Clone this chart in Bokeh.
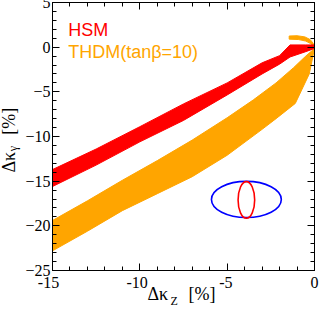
import math
from bokeh.plotting import figure
from bokeh.layouts import column, row
from bokeh.models import Range1d, LinearAxis, SingleIntervalTicker, CustomJSTickFormatter
from bokeh.core.properties import value
from bokeh.embed import file_html
from bokeh.resources import INLINE

# ---- data ----
# HSM band (red): upper / lower boundary of the scatter cloud
hsm_x = [-15, -12.5, -10, -7.5, -5, -3, -2, -1.4, -0.5, 0]
hsm_upper = [-13.7, -11.4, -8.9, -6.35, -4.0, -1.75, -0.95, 0.25, 0.25, 0.25]
hsm_lower = [-15.6, -13.2, -10.6, -8.2, -5.35, -3.0, -1.9, -1.1, -0.5, -0.15]

# THDM(tanb=10) band (orange)
thdm_x_up = [-15, -13, -11, -9, -7, -5, -3.5, -2.2, -1.2, -0.5, 0]
thdm_up = [-19.4, -17.2, -14.9, -12.7, -10.4, -7.9, -5.9, -4.0, -2.3, -1.0, -0.15]
thdm_x_lo = [-15, -13, -11, -9, -7, -5, -3, -2.2, -1.1, -0.3, 0]
thdm_lo = [-22.8, -20.6, -18.3, -16.4, -14.5, -12.1, -9.2, -8.0, -6.3, -3.0, -0.15]

# THDM crescent above zero near the origin
cres_x_out = [-1.45, -1.0, -0.55, -0.25, -0.08, 0]
cres_y_out = [1.25, 1.28, 1.15, 0.85, 0.45, 0]
cres_x_in = [0, -0.22, -0.5, -0.9, -1.45]
cres_y_in = [0, 0.4, 0.68, 0.85, 0.9]

# ellipses (precision indicator)
ell_x = [-3.9, -3.9]
ell_y = [-17.05, -17.1]
ell_w = [4.0, 0.95]
ell_h = [4.05, 4.1]
ell_colors = ["#0000ff", "#ff0000"]

# axes
x_lim = (-15, 0)
y_lim = (-25, 5)
x_ticks = [-15, -10, -5, 0]
x_tick_labels = ["-15", "-10", "-5", "0"]

# legend
legend_texts = ["HSM", "THDM(tanβ=10)"]
legend_colors = ["#ff0000", "#ffa500"]
legend_y = [1.9, -0.5]

SERIF = "Liberation Serif"
SANS = "Liberation Sans"

# ---- layout (picture pixels; root is pulled over the 8px page margin) ----
W, H = 327, 320
WY = 30                              # width of the y-title strip
FL, FR, FT, FB = 56, 322, 10, 278    # frame edges
WM = W - WY                          # main figure width
HM = FB + 12                         # main figure height (room for the "-25" label)
XS = FB + 2                          # top of the x-title strip (overlaps main bottom)
HX = H - XS                          # x-title strip height

p = figure(width=WM, height=HM, x_range=Range1d(*x_lim), y_range=Range1d(*y_lim),
           output_backend="svg", toolbar_location=None,
           x_axis_location=None, y_axis_location=None,
           min_border_left=FL - WY, min_border_right=W - FR,
           min_border_top=FT, min_border_bottom=HM - FB)
p.grid.visible = False
p.background_fill_color = "white"
p.border_fill_color = "white"
p.outline_line_color = "black"


def style_axis(ax, labels):
    ax.ticker = SingleIntervalTicker(interval=5, num_minor_ticks=5)
    ax.major_tick_in = 7
    ax.major_tick_out = 0
    ax.minor_tick_in = 4
    ax.minor_tick_out = 0
    ax.axis_line_color = "black"
    ax.major_tick_line_color = "black"
    ax.minor_tick_line_color = "black"
    if labels:
        ax.major_label_text_font = SERIF
        ax.major_label_text_font_size = "16px"
        ax.major_label_text_color = "black"
        ax.major_label_standoff = 2
    else:
        ax.formatter = CustomJSTickFormatter(code="return ''")
        ax.major_label_standoff = 0


for loc, lab in (("below", False), ("left", True), ("above", False), ("right", False)):
    ax = LinearAxis()
    style_axis(ax, lab)
    p.add_layout(ax, loc)

# bands
p.patch(x=thdm_x_up + thdm_x_lo[::-1], y=thdm_up + thdm_lo[::-1],
        fill_color="#ffa500", line_color="#ffa500", line_width=1)
p.patch(x=cres_x_out + cres_x_in, y=cres_y_out + cres_y_in,
        fill_color="#ffa500", line_color="#ffa500", line_width=1)
p.patch(x=hsm_x + hsm_x[::-1], y=hsm_upper + hsm_lower[::-1],
        fill_color="#ff0000", line_color="#ff0000", line_width=1)

p.ellipse(x=ell_x, y=ell_y, width=ell_w, height=ell_h, fill_alpha=0,
          line_color=ell_colors, line_width=1.6)

# legend texts (inside the frame)
p.text(x=[-14.1, -14.1], y=legend_y, text=legend_texts, text_color=legend_colors,
       text_font=value(SANS), text_font_size="18px", text_baseline="alphabetic")

# ---- x title strip: tick labels + title (transparent, overlapping main bottom) ----
ppx = (x_lim[1] - x_lim[0]) / (FR - FL)   # data units per pixel
xl = figure(width=W, height=HX, output_backend="svg", toolbar_location=None,
            x_range=Range1d(x_lim[0] - FL * ppx, x_lim[1] + (W - FR) * ppx),
            y_range=Range1d(H, XS),
            x_axis_location=None, y_axis_location=None, min_border=0,
            margin=(XS - HM, 0, 0, 0))
xl.grid.visible = False
xl.outline_line_color = None
xl.background_fill_color = None
xl.border_fill_color = None
xl.text(x=x_ticks, y=[FB + 12] * len(x_ticks), text=x_tick_labels, text_align="center",
        text_baseline="alphabetic", text_font=value(SERIF), text_font_size="16px",
        text_color="black")


def dx(px):
    return x_lim[0] + (px - FL) * ppx


xl.text(x=[dx(155), dx(196)], y=[FB + 23, FB + 23], text=["Δκ", "[%]"],
        text_font=value(SERIF), text_font_size="18px", text_baseline="alphabetic",
        text_color="black")
xl.text(x=[dx(178)], y=[FB + 30], text=["Z"], text_font=value(SERIF),
        text_font_size="12px", text_baseline="alphabetic", text_color="black")

# ---- y title strip (rotated) ----
yl = figure(width=WY, height=HM, output_backend="svg", toolbar_location=None,
            x_range=Range1d(0, WY), y_range=Range1d(HM, 0),
            x_axis_location=None, y_axis_location=None, min_border=0)
yl.grid.visible = False
yl.outline_line_color = None
yl.text(x=[16, 16], y=[184, 143], text=["Δκ", "[%]"], angle=math.pi / 2,
        text_font=value(SERIF), text_font_size="18px", text_baseline="alphabetic",
        text_color="black")
yl.text(x=[20], y=[161], text=["γ"], angle=math.pi / 2,
        text_font=value(SERIF), text_font_size="12px", text_baseline="alphabetic",
        text_color="black")

layout = column(row(yl, p), xl, margin=(-8, 0, 0, -8))
open("out.html", "w").write(file_html(layout, INLINE))
